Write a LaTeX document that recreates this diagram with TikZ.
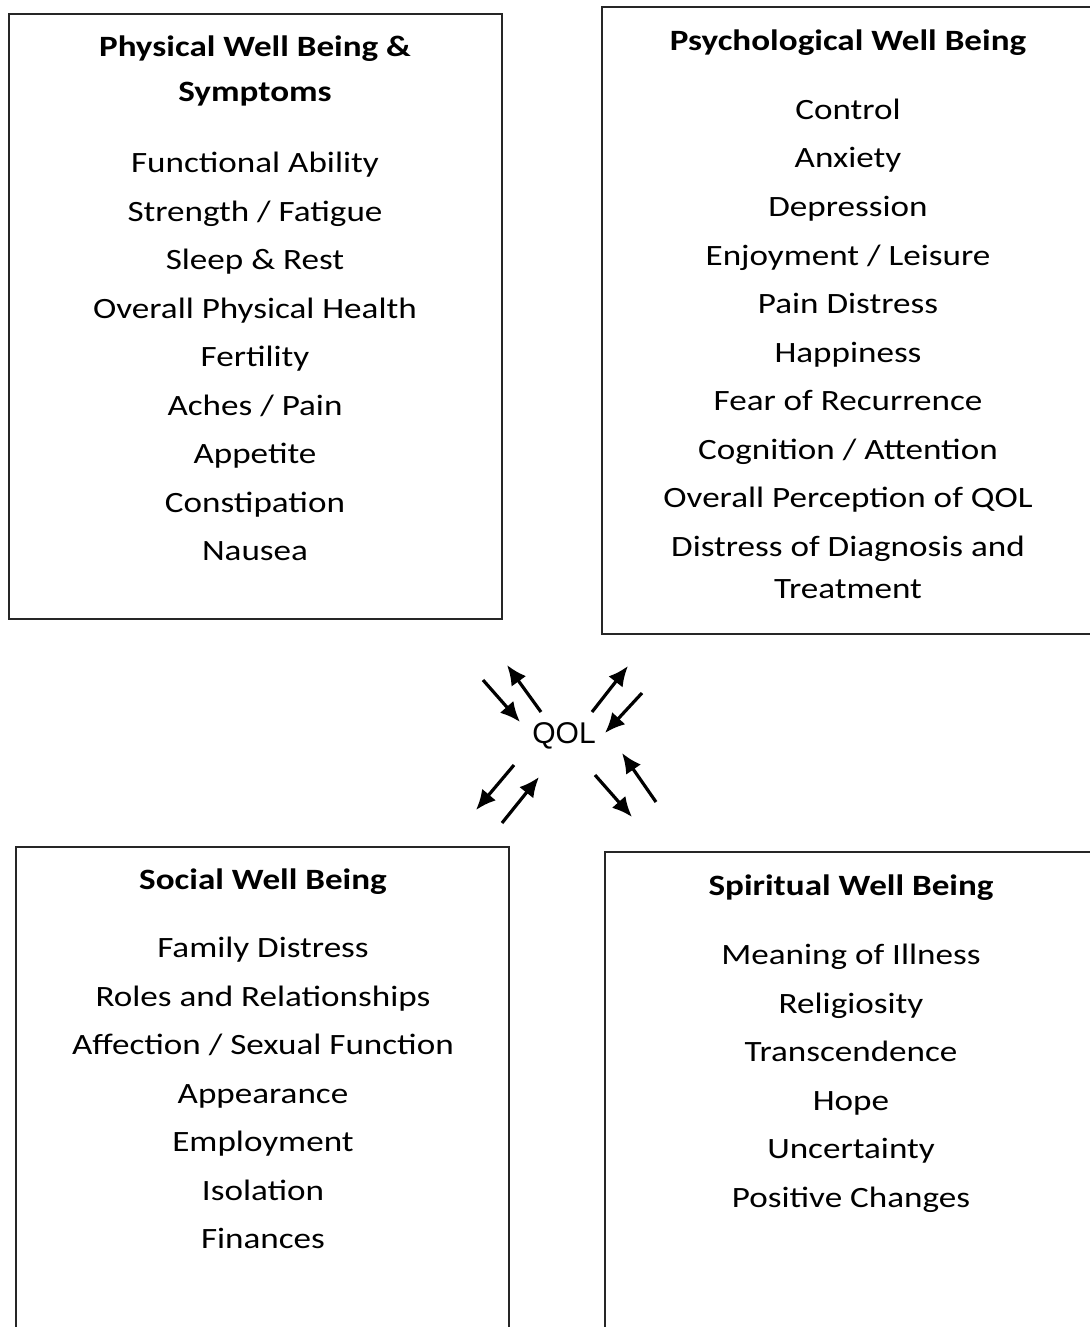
\documentclass[tikz,border=0pt]{standalone}
\usepackage{fontspec}
\setmainfont{Carlito}
\newfontfamily\arialfont{Liberation Sans}
\usetikzlibrary{arrows.meta}
\newcommand{\wide}[1]{\scalebox{1.19}[1]{#1}}
\begin{document}
\begin{tikzpicture}[x=.5pt, y=-.5pt, >={Latex[length=10pt,width=9pt]},
    box/.style={draw=black!85, line width=1pt},
    head/.style={anchor=base, font=\fontsize{14.75}{18}\selectfont\bfseries},
    item/.style={anchor=base, font=\fontsize{14.75}{18}\selectfont},
    link/.style={->, line width=1.6pt}]

    \clip (0,0) rectangle (1090,1327);

    \draw[box] (9,14) rectangle (502,619);
    \draw[box] (602,7) rectangle (1094,634);
    \draw[box] (16,847) rectangle (509,1345);
    \draw[box] (605,852) rectangle (1097,1345);

    \node[head] (phys-head1) at (255,57) {\wide{Physical Well Being \&}};
    \node[head] (phys-head2) at (255,102) {\wide{Symptoms}};
    \foreach \t [count=\i] in {Functional Ability, Strength / Fatigue, Sleep \& Rest,
        Overall Physical Health, Fertility, Aches / Pain, Appetite, Constipation, Nausea}
    {
      \node[item] (phys-\i) at (255,172.5+48.5*\i-48.5) {\wide{\t}};
    }

    \node[head] (psych-head) at (848,51) {\wide{Psychological Well Being}};
    \foreach \t [count=\i] in {Control, Anxiety, Depression, Enjoyment / Leisure, Pain Distress,
        Happiness, Fear of Recurrence, Cognition / Attention, Overall Perception of QOL,
        Distress of Diagnosis and}
    {
      \node[item] (psych-\i) at (848,119.5+48.5*\i-48.5) {\wide{\t}};
    }
    \node[item] (psych-11) at (848,598) {\wide{Treatment}};

    \node[head] (soc-head) at (263,889.5) {\wide{Social Well Being}};
    \foreach \t [count=\i] in {Family Distress, Roles and Relationships, Affection / Sexual Function,
        Appearance, Employment, Isolation, Finances}
    {
      \node[item] (soc-\i) at (263,957.5+48.5*\i-48.5) {\wide{\t}};
    }

    \node[head] (spir-head) at (851,895.5) {\wide{Spiritual Well Being}};
    \foreach \t [count=\i] in {Meaning of Illness, Religiosity, Transcendence, Hope,
        Uncertainty, Positive Changes}
    {
      \node[item] (spir-\i) at (851,964.5+48.5*\i-48.5) {\wide{\t}};
    }

    \node[anchor=base, font=\arialfont\fontsize{15}{18}\selectfont] (qol) at (564,743) {QOL};

    \coordinate (ul-in-a) at (483,680);  \coordinate (ul-in-b) at (520,722);
    \coordinate (ul-out-a) at (541,712); \coordinate (ul-out-b) at (507,665);
    \coordinate (ur-out-a) at (592,712); \coordinate (ur-out-b) at (628,666);
    \coordinate (ur-in-a) at (642,693);  \coordinate (ur-in-b) at (605,733);
    \coordinate (ll-out-a) at (514,765); \coordinate (ll-out-b) at (476,810);
    \coordinate (ll-in-a) at (502,823);  \coordinate (ll-in-b) at (539,777);
    \coordinate (lr-out-a) at (595,775); \coordinate (lr-out-b) at (632,817);
    \coordinate (lr-in-a) at (656,802);  \coordinate (lr-in-b) at (622,753);

    \foreach \c in {ul-in, ul-out, ur-out, ur-in, ll-out, ll-in, lr-out, lr-in}
    {
      \draw[link] (\c-a) -- (\c-b);
    }

\end{tikzpicture}
\end{document}
